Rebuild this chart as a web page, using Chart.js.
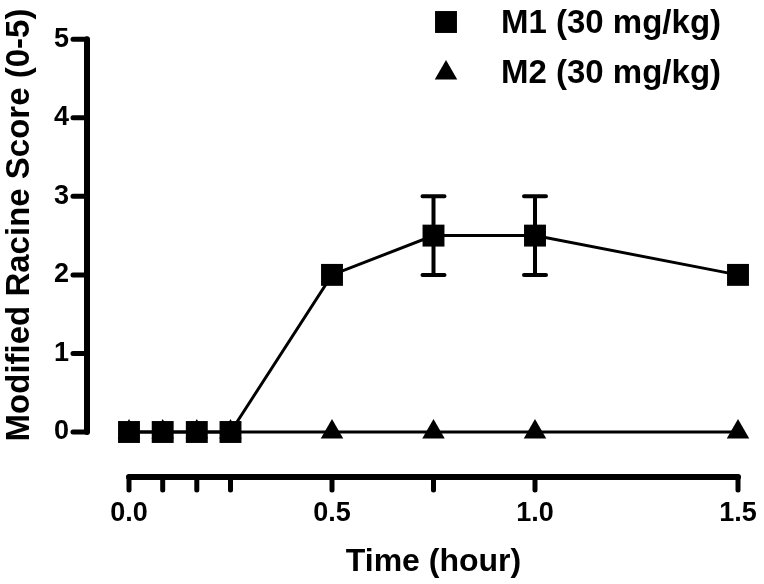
<!DOCTYPE html>
<html>
<head>
<meta charset="utf-8">
<script src="https://cdn.jsdelivr.net/npm/chart.js@4.4.1/dist/chart.umd.min.js"></script>
<style>
  html, body { margin: 0; padding: 0; background: #fff; }
  #wrap { width: 764px; height: 584px; }
</style>
</head>
<body>
<div id="wrap"><canvas id="racineChart"></canvas></div>
<script>
// Time points (hour) and scores
const times = [0, 0.083, 0.167, 0.25, 0.5, 0.75, 1.0, 1.5];
const m1Scores = [0, 0, 0, 0, 2, 2.5, 2.5, 2];
const m1Err = [0, 0, 0, 0, 0, 0.5, 0.5, 0];
const m2Scores = [0, 0, 0, 0, 0, 0, 0, 0];

const xTickValues = [0, 0.083, 0.167, 0.25, 0.5, 0.75, 1.0, 1.5];
const xTickLabels = { 0: '0.0', 0.5: '0.5', 1: '1.0', 1.5: '1.5' };
const yTickValues = [0, 1, 2, 3, 4, 5];

const seriesLabels = ['M1 (30 mg/kg)', 'M2 (30 mg/kg)'];

Chart.defaults.font.family = '"Liberation Sans", Arial, sans-serif';
Chart.defaults.font.weight = 'bold';
Chart.defaults.color = '#000';

// axis lines drawn apart from the plot, Prism style
const offsetAxes = {
    id: 'offsetAxes',
    afterDraw(chart) {
        const ctx = chart.ctx;
        const xs = chart.scales.x, ys = chart.scales.y;
        const axisX = chart.chartArea.left - 42;
        const axisY = ys.getPixelForValue(0) + 45;
        ctx.save();
        ctx.strokeStyle = '#000';
        ctx.lineCap = 'round';
        ctx.lineWidth = 6;
        ctx.beginPath();
        ctx.moveTo(axisX, ys.getPixelForValue(0));
        ctx.lineTo(axisX, ys.getPixelForValue(5));
        ctx.moveTo(xs.getPixelForValue(0), axisY);
        ctx.lineTo(xs.getPixelForValue(1.5), axisY);
        ctx.stroke();
        ctx.lineWidth = 5;
        ctx.beginPath();
        yTickValues.forEach(v => {
            const y = ys.getPixelForValue(v);
            ctx.moveTo(axisX - 14, y);
            ctx.lineTo(axisX, y);
        });
        xTickValues.forEach(v => {
            const x = xs.getPixelForValue(v);
            ctx.moveTo(x, axisY);
            ctx.lineTo(x, axisY + 13);
        });
        ctx.stroke();
        ctx.restore();
    }
};

const errorBars = {
    id: 'errorBars',
    afterDatasetsDraw(chart) {
        const ctx = chart.ctx;
        const xs = chart.scales.x, ys = chart.scales.y;
        ctx.save();
        ctx.strokeStyle = '#000';
        ctx.lineWidth = 4;
        ctx.lineCap = 'round';
        times.forEach((t, i) => {
            if (!m1Err[i]) return;
            const x = xs.getPixelForValue(t);
            const top = ys.getPixelForValue(m1Scores[i] + m1Err[i]);
            const bot = ys.getPixelForValue(m1Scores[i] - m1Err[i]);
            ctx.beginPath();
            ctx.moveTo(x, top); ctx.lineTo(x, bot);
            ctx.moveTo(x - 11, top); ctx.lineTo(x + 11, top);
            ctx.moveTo(x - 11, bot); ctx.lineTo(x + 11, bot);
            ctx.stroke();
        });
        ctx.restore();
    }
};

// legend in the top right corner
const cornerLegend = {
    id: 'cornerLegend',
    afterDraw(chart) {
        const ctx = chart.ctx;
        const rows = [{ y: 22, ty: 33 }, { y: 73, ty: 83 }];
        ctx.save();
        chart.data.datasets.forEach((ds, i) => {
            ctx.fillStyle = '#000';
            ctx.strokeStyle = '#000';
            Chart.helpers.drawPoint(ctx, { pointStyle: ds.pointStyle, radius: ds.pointRadius, borderWidth: 0, rotation: 0 }, 446, rows[i].y);
            ctx.font = 'bold 33px "Liberation Sans", Arial, sans-serif';
            ctx.textBaseline = 'alphabetic';
            ctx.textAlign = 'left';
            ctx.fillText(ds.label, 501, rows[i].ty);
        });
        ctx.restore();
    }
};

new Chart(document.getElementById('racineChart'), {
    type: 'line',
    data: {
        datasets: [
            {
                label: seriesLabels[0],
                data: times.map((t, i) => ({ x: t, y: m1Scores[i] })),
                borderColor: '#000',
                backgroundColor: '#000',
                borderWidth: 3,
                pointStyle: 'rect',
                pointRadius: 15.5,
                pointBorderWidth: 0,
                pointBackgroundColor: '#000',
                tension: 0,
                clip: false
            },
            {
                label: seriesLabels[1],
                data: times.map((t, i) => ({ x: t, y: m2Scores[i] })),
                borderColor: '#000',
                backgroundColor: '#000',
                borderWidth: 3,
                pointStyle: 'triangle',
                pointRadius: 13,
                pointBorderWidth: 0,
                pointBackgroundColor: '#000',
                tension: 0,
                clip: false
            }
        ]
    },
    options: {
        responsive: true,
        maintainAspectRatio: false,
        animation: false,
        layout: { autoPadding: false, padding: { left: 0, right: 26, top: 18, bottom: 3 } },
        scales: {
            x: {
                type: 'linear',
                min: 0,
                max: 1.5,
                afterFit: s => { s.height = 149; s.paddingLeft = 0; s.paddingRight = 0; },
                afterBuildTicks: s => { s.ticks = xTickValues.map(v => ({ value: v })); },
                grid: { display: false, drawTicks: false },
                border: { display: false },
                ticks: {
                    padding: 65,
                    autoSkip: false,
                    maxRotation: 0,
                    font: { size: 27, weight: 'bold' },
                    callback: v => xTickLabels[v] !== undefined ? xTickLabels[v] : ''
                },
                title: {
                    display: true,
                    text: 'Time (hour)',
                    font: { size: 32, weight: 'bold' },
                    padding: 0
                }
            },
            y: {
                min: 0,
                max: 5.27,
                afterFit: s => { s.width = 129; s.paddingTop = 0; s.paddingBottom = 0; },
                afterBuildTicks: s => { s.ticks = yTickValues.map(v => ({ value: v })); },
                grid: { display: false, drawTicks: false },
                border: { display: false },
                ticks: {
                    padding: 60,
                    font: { size: 27, weight: 'bold' }
                },
                title: {
                    display: true,
                    text: 'Modified Racine Score (0-5)',
                    font: { size: 33, weight: 'bold' },
                    padding: 0
                }
            }
        },
        plugins: {
            legend: { display: false },
            tooltip: { enabled: false }
        }
    },
    plugins: [offsetAxes, errorBars, cornerLegend]
});
</script>
</body>
</html>
